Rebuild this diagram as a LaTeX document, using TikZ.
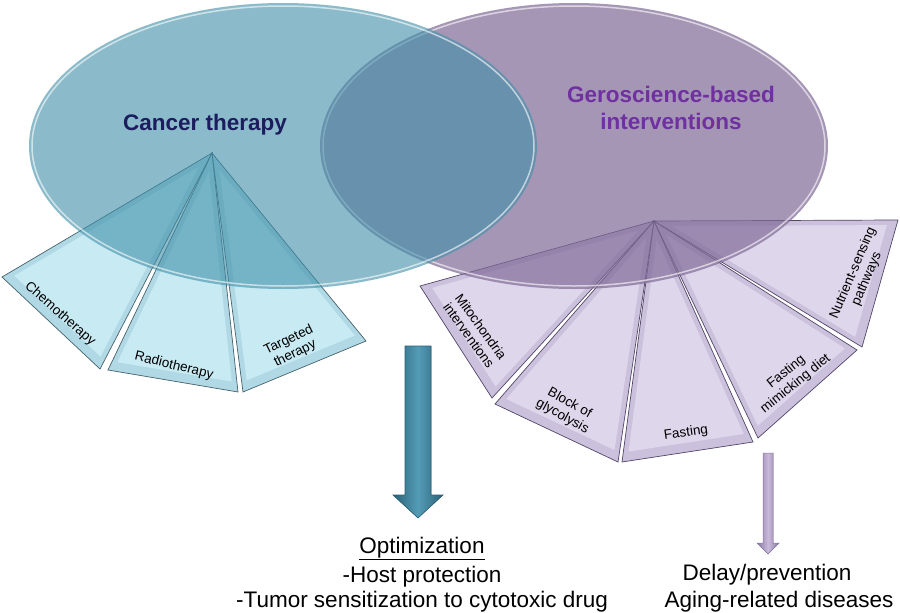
\documentclass[tikz,border=0pt]{standalone}
\usepackage{fontspec}
\setmainfont{Liberation Sans}
\usetikzlibrary{calc}

\definecolor{cancerteal}{RGB}{62,143,168}
\definecolor{geropurple}{RGB}{128,106,152}
\definecolor{cancerink}{RGB}{28,28,94}
\definecolor{geroink}{RGB}{112,48,160}
\definecolor{bluelight}{RGB}{200,234,243}
\definecolor{bluebevel}{RGB}{176,216,229}
\definecolor{blueedge}{RGB}{70,98,108}
\definecolor{purplelight}{RGB}{222,214,235}
\definecolor{purplebevel}{RGB}{204,193,221}
\definecolor{purpleedge}{RGB}{82,70,102}
\definecolor{arrowteal}{RGB}{84,156,182}
\definecolor{arrowtealdark}{RGB}{42,98,120}
\definecolor{arrowlilac}{RGB}{200,186,218}
\definecolor{arrowlilacdark}{RGB}{140,120,166}

\tikzset{
  bluewedge/.style={fill=bluebevel, draw=blueedge, line width=0.7pt},
  purplewedge/.style={fill=purplebevel, draw=purpleedge, line width=0.7pt},
  wedgelabel/.style={font=\fontsize{13.5}{15}\selectfont, align=center, inner sep=0pt},
  titletext/.style={font=\bfseries\fontsize{22.5}{27}\selectfont, align=center},
  outcome/.style={font=\fontsize{22.5}{27}\selectfont, anchor=base, inner sep=0pt},
}

\begin{document}
\begin{tikzpicture}[x=1pt,y=-1pt]
\path[use as bounding box, fill=white] (0,0) rectangle (900,613);

% cancer therapy fan
\coordinate (capex) at (212,153);
\coordinate (chemoA) at (2,277);
\coordinate (chemoB) at (100,369);
\coordinate (radioA) at (108,370);
\coordinate (radioB) at (238,392);
\coordinate (targA) at (243,392);
\coordinate (targB) at (366,341);
\foreach \p/\q in {chemoA/chemoB, radioA/radioB, targA/targB} {
  \filldraw[bluewedge] (capex) -- (\p) -- (\q) -- cycle;
  \coordinate (mid) at ($0.3333*(capex)+0.3333*(\p)+0.3334*(\q)$);
  \fill[bluelight] ($(mid)!0.88!(capex)$) -- ($(mid)!0.88!(\p)$) -- ($(mid)!0.88!(\q)$) -- cycle;
}

% geroscience fan
\coordinate (gapex) at (654,221);
\coordinate (mitoA) at (420,286);
\coordinate (mitoB) at (492,398);
\coordinate (glycoA) at (495,404);
\coordinate (glycoB) at (618,462);
\coordinate (fastA) at (622,462);
\coordinate (fastB) at (753,442);
\coordinate (fmdA) at (758,438);
\coordinate (fmdB) at (857,350);
\coordinate (nutA) at (862,347);
\coordinate (nutB) at (898,220);
\foreach \p/\q in {mitoA/mitoB, glycoA/glycoB, fastA/fastB, fmdA/fmdB, nutA/nutB} {
  \filldraw[purplewedge] (gapex) -- (\p) -- (\q) -- cycle;
  \coordinate (mid) at ($0.3333*(gapex)+0.3333*(\p)+0.3334*(\q)$);
  \fill[purplelight] ($(mid)!0.88!(gapex)$) -- ($(mid)!0.88!(\p)$) -- ($(mid)!0.88!(\q)$) -- cycle;
}

% the two ellipses
\fill[geropurple, fill opacity=0.7] (574,146) ellipse (254 and 143);
\draw[white, opacity=0.6, line width=1.5pt] (574,146) ellipse (251 and 140);
\fill[cancerteal, fill opacity=0.6] (283,146) ellipse (254 and 143);
\draw[white, opacity=0.6, line width=1.5pt] (283,146) ellipse (251 and 140);

\node[titletext, text=cancerink, anchor=base] (cancer) at (205,130) {Cancer therapy};
\node[titletext, text=geroink] (gero) at (671,108) {Geroscience-based\\interventions};

% wedge labels
\node[wedgelabel, rotate=-41] (chemo) at (60,314) {Chemotherapy};
\node[wedgelabel, rotate=-14] (radio) at (174,366) {Radiotherapy};
\node[wedgelabel, rotate=26] (targeted) at (292,347) {Targeted\\therapy};
\node[wedgelabel, rotate=-54] (mito) at (475,331) {Mitochondria\\interventions};
\node[wedgelabel, rotate=-29] (glyco) at (566,410) {Block of\\glycolysis};
\node[wedgelabel, rotate=8] (fasting) at (686,433) {Fasting};
\node[wedgelabel, rotate=39] (fmd) at (791,378) {Fasting\\mimicking diet};
\node[wedgelabel, rotate=67] (nutrient) at (860,276) {Nutrient-sensing\\pathways};

% block arrows
\filldraw[draw=arrowtealdark, line width=0.6pt, left color=arrowtealdark, right color=arrowtealdark, middle color=arrowteal]
  (405,346) -- (431,346) -- (431,495) -- (443,495) -- (418,518) -- (393,495) -- (405,495) -- cycle;
\filldraw[draw=arrowlilacdark, line width=0.5pt, left color=arrowlilacdark, right color=arrowlilacdark, middle color=arrowlilac]
  (763,453) -- (773,453) -- (773,543) -- (779,543) -- (768,554) -- (757,543) -- (763,543) -- cycle;

% outcomes
\node[outcome] (optim) at (422,553) {\underline{Optimization}};
\node[outcome] (host) at (422,582) {-Host protection};
\node[outcome] (tumor) at (422,607) {-Tumor sensitization to cytotoxic drug};
\node[outcome] (delay) at (767,580) {Delay/prevention};
\node[outcome] (aging) at (779,607) {Aging-related diseases};
\end{tikzpicture}
\end{document}
